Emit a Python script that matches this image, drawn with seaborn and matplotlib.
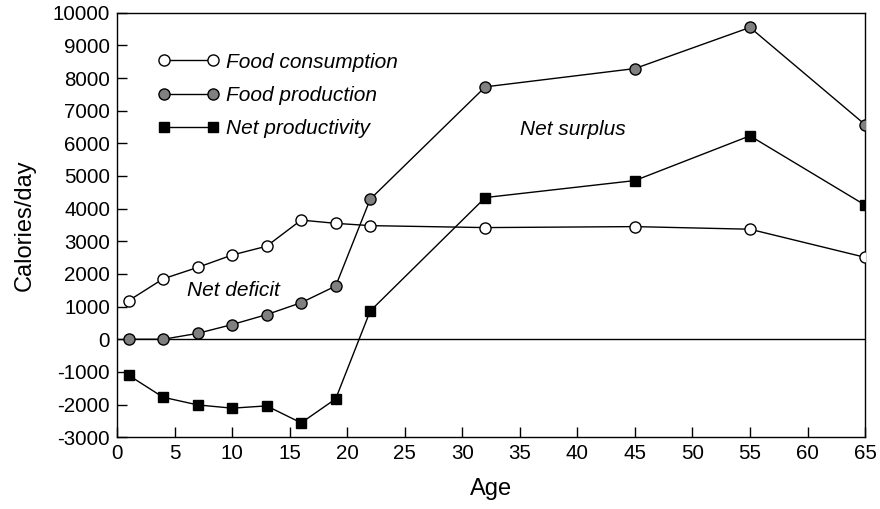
import matplotlib
matplotlib.use("Agg")
import matplotlib.pyplot as plt
import seaborn as sns
import pandas as pd

age = [1, 4, 7, 10, 13, 16, 19, 22, 32, 45, 55, 65]
food_consumption = [1180, 1850, 2200, 2580, 2850, 3650, 3550, 3480, 3420, 3450, 3370, 2510]
food_production = [0, 0, 180, 450, 755, 1120, 1630, 4290, 7730, 8290, 9550, 6575]
net_productivity = [-1100, -1775, -2010, -2110, -2040, -2560, -1825, 865, 4340, 4860, 6230, 4110]

x_ticks = list(range(0, 70, 5))
y_ticks = list(range(-3000, 10001, 1000))

df = pd.DataFrame({"Age": age, "cons": food_consumption,
                   "prod": food_production, "net": net_productivity})

sns.set_style("white")
plt.rcParams["font.family"] = ["Liberation Sans", "DejaVu Sans"]
plt.rcParams["axes.unicode_minus"] = False
plt.rcParams["text.color"] = "black"
plt.rcParams["axes.labelcolor"] = "black"

fig, ax = plt.subplots(figsize=(8.8, 5.09), dpi=100)
fig.subplots_adjust(left=0.133, right=0.983, top=0.975, bottom=0.141)

ax.axhline(0, color="black", lw=1, zorder=1)

common = dict(color="black", lw=1, mec="black", mew=1, zorder=3)
sns.lineplot(data=df, x="Age", y="cons", ax=ax, marker="o", ms=8,
             mfc="white", label="Food consumption", **common)
sns.lineplot(data=df, x="Age", y="prod", ax=ax, marker="o", ms=8,
             mfc="#808080", label="Food production", **common)
sns.lineplot(data=df, x="Age", y="net", ax=ax, marker="s", ms=6.5,
             mfc="black", label="Net productivity", **common)

ax.set_xlim(0, 65)
ax.set_ylim(-3000, 10000)
ax.set_xticks(x_ticks)
ax.set_yticks(y_ticks)
ax.tick_params(direction="in", length=7, width=1, labelsize=14.8, colors="black",
               top=False, right=False, bottom=True, left=True, pad=5)
for s in ax.spines.values():
    s.set_color("black")
    s.set_linewidth(1)

ax.set_xlabel("Age", fontsize=17, labelpad=11)
ax.set_ylabel("Calories/day", fontsize=17, labelpad=12)

ax.text(10.1, 1500, "Net deficit", style="italic", fontsize=15,
        ha="center", va="center")
ax.text(39.6, 6420, "Net surplus", style="italic", fontsize=15,
        ha="center", va="center")

leg = ax.legend(loc="upper left", bbox_to_anchor=(0.03, 0.95), frameon=False,
                numpoints=2, handlelength=2.95, handletextpad=0.3,
                labelspacing=0.68, prop={"style": "italic", "size": 15})

fig.savefig("out.png", dpi=100)
